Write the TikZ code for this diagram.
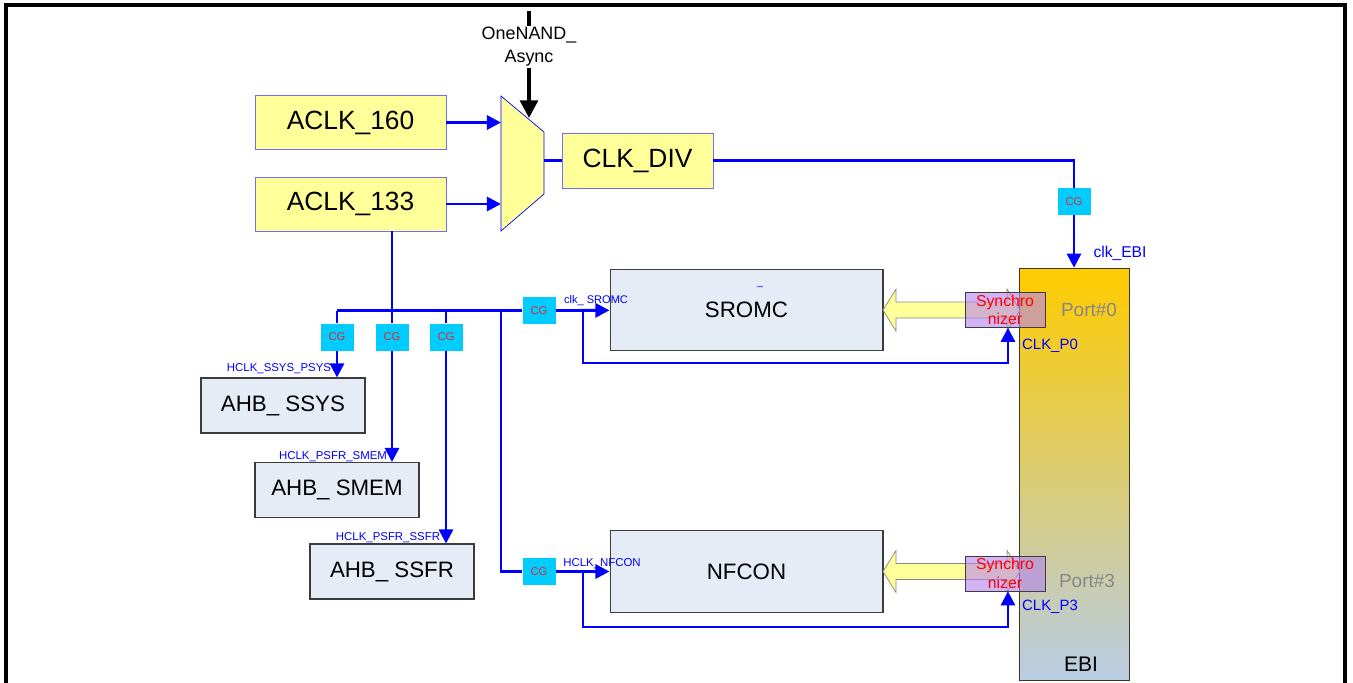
\documentclass[tikz,border=0pt]{standalone}
\usepackage{fontspec}
\setmainfont{Liberation Sans}
\usetikzlibrary{arrows.meta, positioning, calc}
\definecolor{sigblue}{RGB}{0, 0, 255}
\definecolor{clkyellow}{RGB}{255, 255, 153}
\definecolor{clkedge}{RGB}{110, 110, 255}
\definecolor{ipfill}{RGB}{230, 236, 246}
\definecolor{ipedge}{RGB}{60, 60, 60}
\definecolor{cgcyan}{RGB}{0, 204, 255}
\definecolor{cgred}{RGB}{225, 40, 40}
\definecolor{ebitop}{RGB}{255, 204, 0}
\definecolor{ebibot}{RGB}{184, 204, 228}
\definecolor{ebiedge}{RGB}{60, 55, 30}
\definecolor{syncfill}{RGB}{180, 130, 240}
\definecolor{portgray}{RGB}{135, 135, 135}

\begin{document}
\begin{tikzpicture}[x=0.02cm, y=-0.02cm,
    clkbox/.style={draw=clkedge, fill=clkyellow, inner sep=0pt,
      minimum width=3.82cm, minimum height=1.08cm, font=\fontsize{15}{18}\selectfont},
    ipbox/.style={draw=ipedge, fill=ipfill, line width=0.6pt, inner sep=0pt,
      minimum width=3.28cm, minimum height=1.1cm, font=\fontsize{12.7}{15}\selectfont},
    bigip/.style={ipbox, minimum width=5.46cm, minimum height=1.63cm},
    cgbox/.style={fill=cgcyan, inner sep=0pt, minimum width=0.66cm, minimum height=0.54cm,
      font=\fontsize{6.4}{7}\selectfont\color{cgred}},
    syncbox/.style={draw=ipedge, fill=syncfill, fill opacity=0.6, text opacity=1,
      inner sep=0pt, minimum width=1.6cm, minimum height=0.7cm, align=center,
      font=\fontsize{9}{10.5}\selectfont\color{red}},
    fatarrow/.style={draw=portgray, fill=clkyellow, line width=0.4pt},
    sig/.style={draw=sigblue, line width=1.6pt},
    sigarr/.style={sig, -{Triangle[length=8pt, width=8pt]}},
    lbl/.style={inner sep=0pt, text=sigblue, font=\fontsize{6.5}{8}\selectfont},
    portlbl/.style={inner sep=0pt, text=portgray, font=\fontsize{10.8}{13}\selectfont},
  ]
  \useasboundingbox (0,0) rectangle (1353,683);
  \draw[line width=2pt] (6,683) -- (6,5) -- (1345,5) -- (1345,683);

  % clock sources and mux
  \node[clkbox] (aclka) at (350.5,122.5) {ACLK\_160};
  \node[clkbox] (aclkb) at (350.5,204) {ACLK\_133};
  \draw[draw=sigblue, fill=clkyellow] (501,96) -- (544,132) -- (544,194) -- (501,231) -- cycle;
  \coordinate (mux-a) at (501,122.5);
  \coordinate (mux-b) at (501,204);
  \coordinate (mux-s) at (529,118);
  \coordinate (mux-o) at (544,160.5);
  \node[clkbox, minimum width=3.02cm, minimum height=1.1cm] (clkdiv) at (637.5,160.5) {CLK\_DIV};
  \node[inner sep=0.5pt, align=center, font=\fontsize{10.2}{13}\selectfont] (onenand) at (529,47) {OneNAND\_\\Async};
  \coordinate (onenand-top) at (529,11);

  \draw[sigarr] (aclka) -- (mux-a);
  \draw[sigarr] (aclkb) -- (mux-b);
  \draw[line width=2.2pt] (onenand-top) -- (onenand);
  \draw[line width=2.2pt, -{Triangle[length=10pt, width=10pt]}] (onenand) -- (mux-s);
  \draw[sig] (mux-o) -- (clkdiv);

  % EBI side
  \node[draw=ebiedge, top color=ebitop, bottom color=ebibot, inner sep=0pt,
    minimum width=2.2cm, minimum height=8.24cm] (ebi) at (1074,474) {};
  \node[inner sep=0pt, font=\fontsize{12}{14}\selectfont] (ebiname) at (1081,664) {EBI};
  \node[portlbl] (port0) at (1089,310) {Port\#0};
  \node[portlbl] (port3) at (1087,581) {Port\#3};
  \node[cgbox] (cgebi) at (1074,201.5) {CG};
  \draw[sig] (clkdiv) -| (cgebi);
  \draw[sigarr] (cgebi) -- (cgebi |- ebi.north);
  \node[lbl, font=\fontsize{8.9}{10}\selectfont] (clkebi) at (1120,253) {clk\_EBI};

  % IP blocks
  \node[bigip] (sromc) at (746.5,310) {SROMC};
  \node[bigip] (nfcon) at (746.5,571.5) {NFCON};
  \node[lbl, font=\fontsize{6}{7}\selectfont] (sromcmark) at (760,287) {\_};
  \node[ipbox] (ssys) at (283,405.5) {AHB\_ SSYS};
  \node[ipbox] (smem) at (337,490) {AHB\_ SMEM};
  \node[ipbox] (ssfr) at (392,571.5) {AHB\_ SSFR};

  \draw[fatarrow] (883,310) -- ++(13,-21) -- ++(0,13) -- ++(111,0) -- ++(0,-13) -- ++(13,21)
    -- ++(-13,21) -- ++(0,-13) -- ++(-111,0) -- ++(0,13) -- cycle;
  \draw[fatarrow] (883,571.5) -- ++(13,-21) -- ++(0,13) -- ++(111,0) -- ++(0,-13) -- ++(13,21)
    -- ++(-13,21) -- ++(0,-13) -- ++(-111,0) -- ++(0,13) -- cycle;
  \node[syncbox] (sync0) at (1005,310) {Synchro\\nizer};
  \node[syncbox] (sync3) at (1005,573.5) {Synchro\\nizer};

  % AHB clock tree
  \node[cgbox] (cga) at (337,337) {CG};
  \node[cgbox] (cgb) at (392,337) {CG};
  \node[cgbox] (cgc) at (446,337) {CG};
  \node[cgbox] (cgsrom) at (539,310.5) {CG};
  \node[cgbox] (cgnf) at (539,571.5) {CG};
  \coordinate (bus-l) at (337,310.5);
  \coordinate (bus-n) at (501,310.5);
  \coordinate (tap0) at (583,310.5);
  \coordinate (tap3) at (583,571.5);

  \draw[sig] (aclkb.south -| cgb) -- (cgb);
  \draw[sig] (bus-l) -- (cgsrom);
  \draw[sig] (bus-l) -- (cga);
  \draw[sig] (cgc |- bus-l) -- (cgc);
  \draw[sigarr] (cga) -- (cga |- ssys.north);
  \draw[sigarr] (cgb) -- (cgb |- smem.north);
  \draw[sigarr] (cgc) -- (cgc |- ssfr.north);
  \draw[sig] (bus-n) |- (cgnf);
  \draw[sigarr] (cgsrom) -- (sromc);
  \draw[sigarr] (cgnf) -- (nfcon);
  \draw[sigarr] (tap0) -- (583,363) -| ([xshift=1.7pt]sync0.south);
  \draw[sigarr] (tap3) -- (583,627) -| ([xshift=1.7pt]sync3.south);

  \node[lbl] (lssys) at (279,369) {HCLK\_SSYS\_PSYS};
  \node[lbl] (lsmem) at (333,457) {HCLK\_PSFR\_SMEM};
  \node[lbl] (lssfr) at (388,538) {HCLK\_PSFR\_SSFR};
  \node[lbl, font=\fontsize{6.3}{8}\selectfont] (lsromc) at (596,301) {clk\_ SROMC};
  \node[lbl] (lnfcon) at (602,564) {HCLK\_NFCON};
  \node[lbl, font=\fontsize{8.5}{10}\selectfont] (lp0) at (1050,346) {CLK\_P0};
  \node[lbl, font=\fontsize{8.5}{10}\selectfont] (lp3) at (1050,607) {CLK\_P3};
\end{tikzpicture}
\end{document}
